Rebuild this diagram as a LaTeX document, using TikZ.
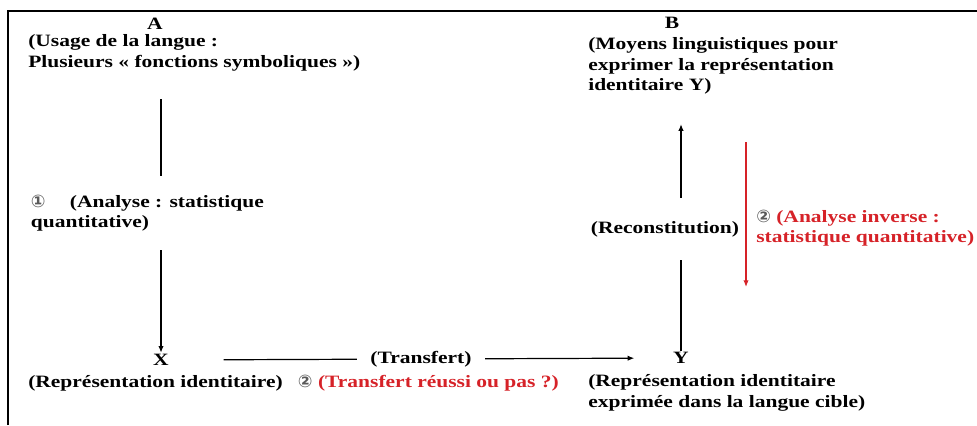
\documentclass[tikz,border=0pt]{standalone}
\usepackage{fontspec}
\setmainfont{Liberation Serif}[FakeStretch=1.24]
\newfontfamily\circfont{DejaVu Sans}
\usetikzlibrary{positioning, arrows.meta}
\definecolor{redtxt}{RGB}{214,34,40}
\definecolor{circgray}{RGB}{90,90,90}

\begin{document}
\begin{tikzpicture}[x=0.75pt, y=-0.75pt,
    txt/.style={inner sep=0pt, align=left, anchor=west, font=\fontsize{13}{15.5}\selectfont\bfseries},
    lbl/.style={inner sep=1pt, font=\fontsize{13}{15.5}\selectfont\bfseries},
    arr/.style={-{Latex[length=5pt, width=4pt]}, line width=0.9pt},
    redarr/.style={-{Latex[length=5pt, width=4pt]}, line width=0.9pt, draw=redtxt}]
    \useasboundingbox (0,0) rectangle (977,425);
    % frame
    \draw[line width=1.5pt] (8,425) -- (8,11) -- (977,11);

    \node[lbl] (A) at (155,24) {A};
    \node[txt] (Atext) at (28,53) {(Usage de la langue :\\Plusieurs « fonctions symboliques »)};
    \node[lbl] (B) at (672,23) {B};
    \node[txt] (Btext) at (588,66) {(Moyens linguistiques pour\\exprimer la représentation\\identitaire Y)};
    \node[lbl] (X) at (161,360) {X};
    \node[txt] (Xtext) at (28,383) {(Représentation identitaire)};
    \node[txt, right=11pt of Xtext] (Tquest) {{\circfont\color{circgray}②} \textcolor{redtxt}{(Transfert réussi ou pas ?)}};
    \node[lbl] (Y) at (681,358) {Y};
    \node[txt] (Ytext) at (588,393) {(Représentation identitaire\\exprimée dans la langue cible)};

    % A -> X
    \draw[arr, shorten <=21pt] (X |- Atext.south) -- (X);
    \node[txt, fill=white, inner xsep=2pt, inner ysep=14pt] (Ana) at (28,213)
        {{\circfont\color{circgray}①}\hspace{1.4em}(Analyse : statistique\\quantitative)};

    % Y -> B
    \draw[arr, shorten >=22pt] (Y) -- (Y |- Btext.south);
    \node[lbl, fill=white, inner xsep=1pt, inner ysep=17pt] (Rec) at (665,229) {(Reconstitution)};

    % X -> Y
    \draw[arr, shorten <=40pt, shorten >=28pt] (X) -- (Y)
        node[midway, lbl, fill=white, inner xsep=10pt] (Tr) {(Transfert)};

    % red inverse analysis
    \coordinate (r1) at (746,142);
    \coordinate (r2) at (746,287);
    \draw[redarr] (r1) -- (r2);
    \node[txt, text=redtxt] (Inv) at (756,228) {{\circfont\color{circgray}②} (Analyse inverse :\\statistique quantitative)};
\end{tikzpicture}
\end{document}
